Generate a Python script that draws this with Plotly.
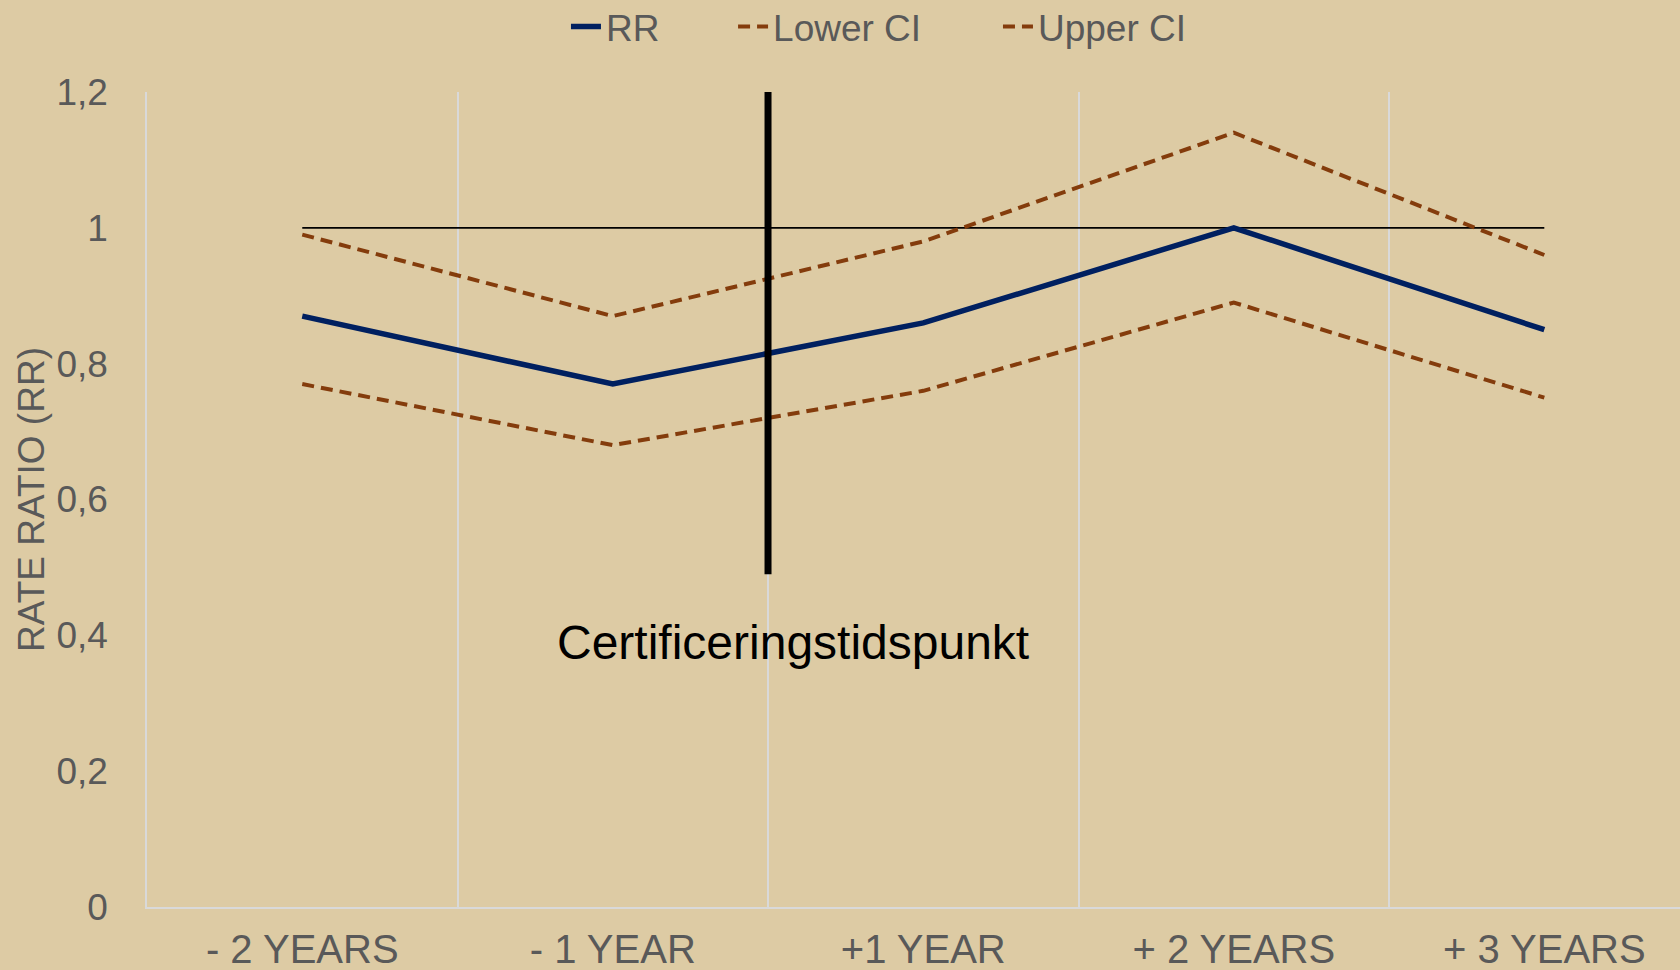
import plotly.graph_objects as go

categories = ["- 2 YEARS", "- 1 YEAR", "+1 YEAR", "+ 2 YEARS", "+ 3 YEARS"]
x_pos = [0, 1, 2, 3, 4]
rr = [0.87, 0.77, 0.86, 1.00, 0.85]
lower_ci = [0.77, 0.68, 0.76, 0.89, 0.75]
upper_ci = [0.99, 0.87, 0.98, 1.14, 0.96]

ref_x = [0, 4]
ref_y = [1, 1]
cert_x = [1.5, 1.5]
cert_y = [0.49, 1.205]
cert_label = "Certificeringstidspunkt"

y_ticks = [0, 0.2, 0.4, 0.6, 0.8, 1.0, 1.2]
y_ticktext = ["0", "0,2", "0,4", "0,6", "0,8", "1", "1,2"]

BG = "#DDCBA4"
GRID = "#D9D9D9"
TXT = "#595959"
FONT = "Liberation Sans, Arial, sans-serif"

fig = go.Figure()

fig.add_trace(go.Scatter(x=ref_x, y=ref_y, mode="lines",
                         line=dict(color="#000000", width=1.8),
                         showlegend=False, hoverinfo="skip"))
fig.add_trace(go.Scatter(x=x_pos, y=rr, mode="lines", name="RR", legend="legend",
                         line=dict(color="#002060", width=5.5)))
fig.add_trace(go.Scatter(x=x_pos, y=lower_ci, mode="lines", name="Lower CI", legend="legend2",
                         line=dict(color="#843C0C", width=4, dash="12px,7px")))
fig.add_trace(go.Scatter(x=x_pos, y=upper_ci, mode="lines", name="Upper CI", legend="legend3",
                         line=dict(color="#843C0C", width=4, dash="12px,7px")))
fig.add_trace(go.Scatter(x=cert_x, y=cert_y, mode="lines",
                         line=dict(color="#000000", width=7),
                         showlegend=False, hoverinfo="skip"))

fig.add_annotation(x=1.58, y=0.389, text=cert_label, showarrow=False,
                   xanchor="center", yanchor="middle",
                   font=dict(family=FONT, size=48, color="#000000"))

def leg(xp):
    return dict(orientation="h", x=xp, xanchor="left", xref="paper",
                y=1.118, yanchor="top", yref="paper",
                font=dict(size=37, color=TXT), bgcolor="rgba(0,0,0,0)")

fig.update_layout(
    width=1680, height=970,
    paper_bgcolor=BG, plot_bgcolor=BG,
    margin=dict(l=147, r=0, t=92, b=63, autoexpand=False),
    font=dict(family=FONT, color=TXT),
    showlegend=True,
    legend=leg(0.2733), legend2=leg(0.3823), legend3=leg(0.5551),
    xaxis=dict(range=[-0.5, 4.437], tickvals=x_pos, ticktext=categories,
               showgrid=False, zeroline=False,
               showline=True, linecolor=GRID, linewidth=2,
               ticks="outside", ticklen=6, tickcolor="rgba(0,0,0,0)",
               tickfont=dict(size=40, color=TXT),
               minor=dict(tickvals=[-0.5, 0.5, 1.5, 2.5, 3.5], showgrid=True,
                          gridcolor=GRID, gridwidth=1.5, ticks="")),
    yaxis=dict(range=[0, 1.2], tickvals=y_ticks, ticktext=y_ticktext,
               showgrid=False, zeroline=False,
               showline=True, linecolor=GRID, linewidth=1.5,
               ticks="outside", ticklen=30, tickcolor="rgba(0,0,0,0)",
               tickfont=dict(size=37, color=TXT),
               title=dict(text="RATE RATIO (RR)", font=dict(size=37, color=TXT),
                          standoff=0)),
)

fig.write_html("out.html", config={"displayModeBar": False},
               post_script="document.body.style.margin='0';")
